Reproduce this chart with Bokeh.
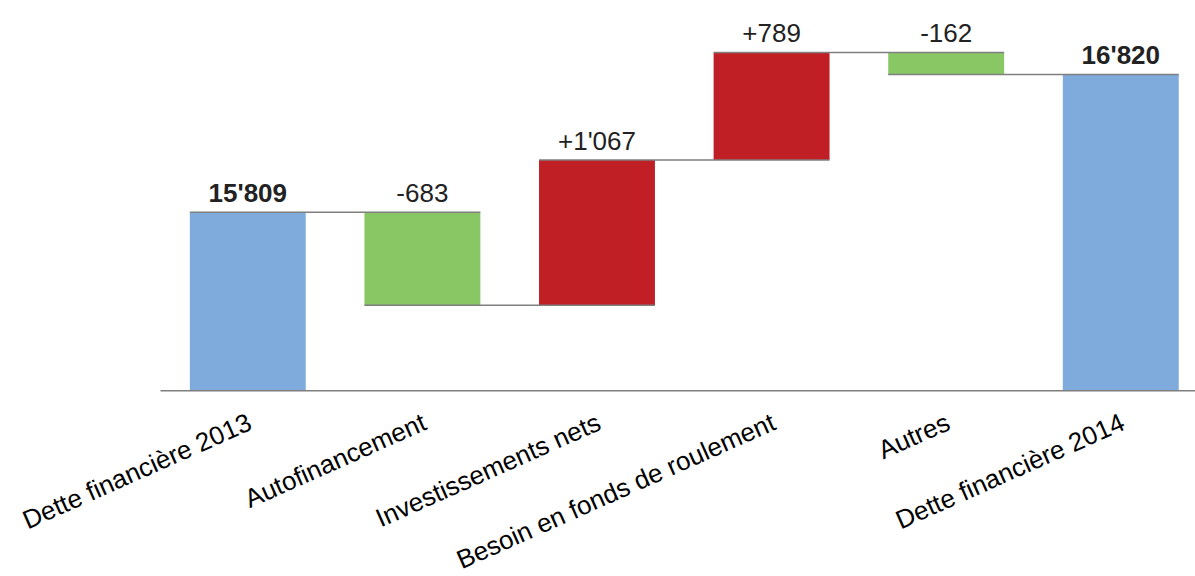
import math
from bokeh.plotting import figure
from bokeh.models import Range1d, ColumnDataSource
from bokeh.core.properties import value
from bokeh.embed import file_html
from bokeh.resources import INLINE

categories = ["Dette financière 2013", "Autofinancement", "Investissements nets",
              "Besoin en fonds de roulement", "Autres", "Dette financière 2014"]
amounts = [15809, -683, 1067, 789, -162, 16820]
kinds = ["total", "delta", "delta", "delta", "delta", "total"]
value_labels = ["15'809", "-683", "+1'067", "+789", "-162", "16'820"]

Y_BASE = 14500      # value axis floor (where the baseline is drawn)
Y_LOW = 13136       # room under the baseline for the category labels
Y_END = 17363
X_START = -1.4164   # room left of the first bar for the first label
X_AXIS_START = -0.5
X_END = 5.428
BAR_W = 0.664
C_TOTAL = "#7EABDC"
C_UP = "#C01F25"
C_DOWN = "#88C764"
C_LINE = "#7F7F7F"
FONT = "Liberation Sans"

xs = list(range(len(categories)))
bottoms, tops, colors, styles, levels = [], [], [], [], []
running = 0
for k, a in zip(kinds, amounts):
    if k == "total":
        running = a
        bottoms.append(Y_BASE)
        tops.append(a)
        colors.append(C_TOTAL)
        styles.append("bold")
    else:
        start = running
        running = running + a
        bottoms.append(min(start, running))
        tops.append(max(start, running))
        colors.append(C_UP if a > 0 else C_DOWN)
        styles.append("normal")
    levels.append(running)

src = ColumnDataSource(dict(x=xs, bottom=bottoms, top=tops, color=colors,
                            label=value_labels, style=styles,
                            cat=categories, base=[Y_BASE] * len(xs)))

p = figure(width=1195, height=576, output_backend="svg", toolbar_location=None,
           x_range=Range1d(X_START, X_END), y_range=Range1d(Y_LOW, Y_END),
           min_border_left=0, min_border_right=0, min_border_top=0, min_border_bottom=0)

p.vbar(x="x", bottom="bottom", top="top", width=BAR_W, fill_color="color",
       line_color=None, source=src)

seg_x0 = [i - BAR_W / 2 for i in xs[:-1]]
seg_x1 = [i + 1 + BAR_W / 2 for i in xs[:-1]]
seg_y = levels[:-1]
p.segment(x0=seg_x0, y0=seg_y, x1=seg_x1, y1=seg_y, line_color=C_LINE, line_width=1.5)

# baseline (category axis line)
p.segment(x0=[X_AXIS_START], y0=[Y_BASE], x1=[X_END], y1=[Y_BASE],
          line_color=C_LINE, line_width=1.5)

# value labels above each bar
p.text(x="x", y="top", text="label", source=src, text_align="center",
       text_baseline="alphabetic", y_offset=-19, text_font=value(FONT),
       text_font_size="26px", text_font_style="style", text_color="#222222")

# category labels (rotated) under the baseline
p.text(x="x", y="base", text="cat", source=src, text_align="right",
       text_baseline="alphabetic", angle=math.radians(24), x_offset=2, y_offset=30,
       text_font=value(FONT), text_font_size="26px", text_color="#000000")

p.xaxis.visible = False
p.yaxis.visible = False
p.xgrid.visible = False
p.ygrid.visible = False
p.outline_line_color = None

open("out.html", "w").write(file_html(p, INLINE))
